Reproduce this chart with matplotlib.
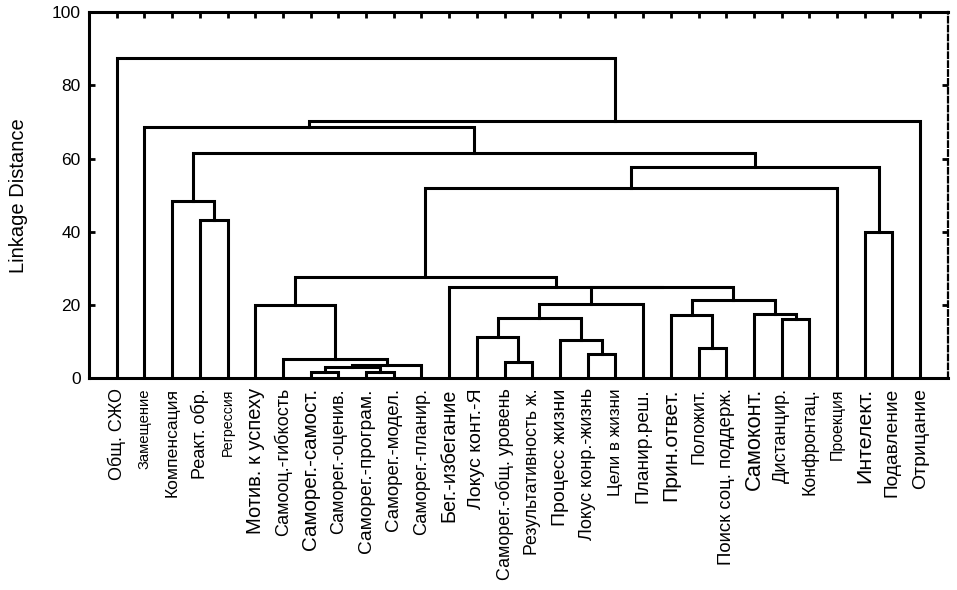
import matplotlib
matplotlib.use("Agg")
import matplotlib.pyplot as plt

plt.rcParams['font.family'] = ['Liberation Sans', 'DejaVu Sans']

''' DATA '''

# leaf labels in the order they stand on the x axis
leaves = [
    'Общ. СЖО', 'Замещение', 'Компенсация', 'Реакт. обр.', 'Регрессия',
    'Мотив. к успеху', 'Самооц.-гибкость', 'Саморег.-самост.', 'Саморег.-оцeнив.',
    'Саморег.-програм.', 'Саморег.-модел.', 'Саморег.-планир.', 'Бег.-избегание',
    'Локус конт.-Я', 'Саморег.-общ. уровень', 'Результативность ж.', 'Процесс жизни',
    'Локус конр.-жизнь', 'Цели в жизни', 'Планир.реш.', 'Прин.ответ.', 'Положит.',
    'Поиск соц. поддерж.', 'Самоконт.', 'Дистанцир.', 'Конфронтац.', 'Проекция',
    'Интелект.', 'Подавление', 'Отрицание',
]

# merges like a linkage matrix: leaves are 0..29, merge k makes node 30+k
merge_a = [7, 9, 30, 32, 6, 5, 14, 13, 17, 16, 37, 40, 21, 20, 24, 23, 43, 41,
           12, 35, 49, 27, 50, 3, 2, 54, 1, 56, 0]
merge_b = [8, 10, 31, 11, 33, 34, 15, 36, 18, 38, 39, 19, 22, 42, 25, 44, 45, 46,
           47, 48, 26, 28, 51, 4, 53, 52, 55, 29, 57]
merge_h = [1.9, 1.7, 3.0, 3.8, 5.2, 20.0, 4.6, 11.4, 6.8, 10.6, 16.6, 20.2, 8.4,
           17.2, 16.3, 17.7, 21.5, 24.9, 25.1, 27.6, 52.1, 40.0, 57.8, 43.2, 48.4,
           61.5, 68.7, 70.2, 87.5]

y_ticks = [0, 20, 40, 60, 80, 100]

# label sizes as they show in the picture (pt)
label_pt = [13, 10.7, 12.6, 13, 10.2, 14.5, 13, 14.8, 13, 13.8, 13.4, 13.1,
            14.2, 14, 12.9, 12.7, 14, 13.1, 12.3, 13.8, 15.2, 12.9, 13.4, 15.7,
            13.1, 12.8, 11.4, 15.4, 13.8, 14]

''' TREE '''

n = len(leaves)
xpos = [i + 1 for i in range(n)]
hpos = [0.0] * n
for a, b, h in zip(merge_a, merge_b, merge_h):
    xpos.append((xpos[a] + xpos[b]) / 2)
    hpos.append(h)

fig = plt.figure(figsize=(9.57, 5.90), dpi=100)
ax = fig.add_axes([0.093, 0.3585, 0.8975, 0.621])

for a, b, h in zip(merge_a, merge_b, merge_h):
    ax.plot([xpos[a], xpos[a], xpos[b], xpos[b]], [hpos[a], h, h, hpos[b]],
            color='black', lw=2.2, solid_capstyle='projecting',
            solid_joinstyle='miter')

ax.set_xlim(0, n + 1)
ax.set_ylim(0, 100)
ax.set_yticks(y_ticks)
ax.set_yticklabels([str(t) for t in y_ticks], fontsize=12.5)
ax.set_xticks(xpos[:n])
ax.set_xticklabels(leaves, rotation=90, va='top', ha='center')
for lab, s in zip(ax.get_xticklabels(), label_pt):
    lab.set_fontsize(s)

ax.tick_params(axis='x', bottom=False, top=True, direction='in', length=4,
               width=2, pad=7)
ax.tick_params(axis='y', left=True, right=True, direction='in', length=4,
               width=2, pad=6)
ax.set_ylabel('Linkage Distance', fontsize=14.5, labelpad=17)

for side in ['left', 'bottom', 'top']:
    ax.spines[side].set_linewidth(2.2)
ax.spines['right'].set_linewidth(1.6)
ax.spines['right'].set_linestyle((0, (2.5, 1.5)))

fig.savefig('out.png', dpi=100)
